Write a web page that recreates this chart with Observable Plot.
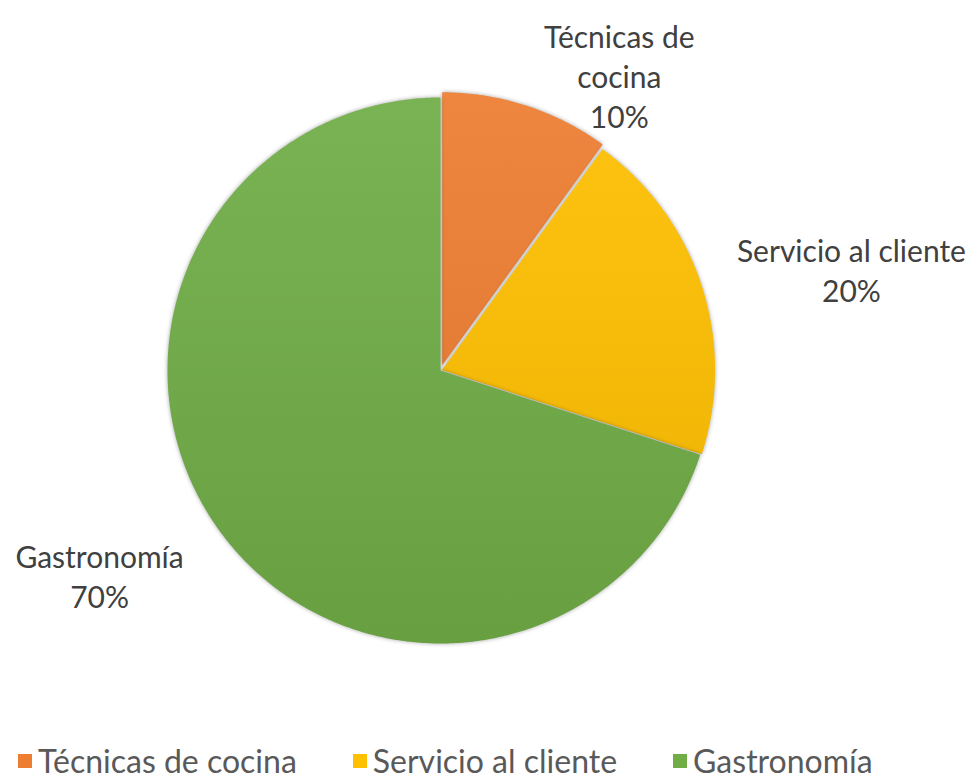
<!DOCTYPE html>
<html>
<head>
<meta charset="utf-8">
<script src="https://cdn.jsdelivr.net/npm/d3@7"></script>
<script src="https://cdn.jsdelivr.net/npm/@observablehq/plot@0.6"></script>
<style>
  html, body { margin: 0; padding: 0; background: #fff; overflow: hidden; }
  #chart { width: 975px; height: 738px; }
  #chart svg { display: block; }
  #legend { display: flex; align-items: center; height: 46px; padding-left: 18px; line-height: 1.15;
    font-family: Lato, "Open Sans", sans-serif; font-size: 32px; color: #595959; }
  #legend .item { display: flex; align-items: center; margin-right: 56px; }
  #legend .sw { width: 14px; height: 14px; margin-right: 6px; }
</style>
</head>
<body>
<div id="chart"></div>
<div id="legend"></div>
<script>
// ---- data ----
const categories = ["Técnicas de cocina", "Servicio al cliente", "Gastronomía"];
const labelLines = ["Técnicas de\ncocina", "Servicio al cliente", "Gastronomía"];
const values = [10, 20, 70];
const colors = ["#ED7D31", "#FFC000", "#70AD47"];

// ---- layout (not data) ----
const R = 273, CX = 440, CY = 370;
const explode = [0.02, 0.006, 0];
const labelPolar = [[31.2, 1.264], [76.2, 1.55], [239, 1.457]]; // degrees, radius
const total = d3.sum(values);

const pie = d3.pie().sort(null).value(d => d)(values);
const wedgePts = [];
pie.forEach((p, i) => {
  const mid = (p.startAngle + p.endAngle) / 2;
  const ox = explode[i] * Math.sin(mid), oy = explode[i] * Math.cos(mid);
  wedgePts.push({k: i, x: ox, y: oy});
  const n = Math.max(8, Math.ceil((p.endAngle - p.startAngle) / 0.01));
  for (let j = 0; j <= n; j++) {
    const a = p.startAngle + (p.endAngle - p.startAngle) * j / n;
    wedgePts.push({k: i, x: ox + Math.sin(a), y: oy + Math.cos(a)});
  }
});

const labels = categories.map((c, i) => {
  const a = labelPolar[i][0] * Math.PI / 180, r = labelPolar[i][1];
  return {
    text: labelLines[i] + "\n" + Math.round(values[i] / total * 100) + "%",
    x: r * Math.sin(a), y: r * Math.cos(a)
  };
});

const plot = Plot.plot({
  width: 975, height: 738,
  margin: 0,
  x: {domain: [-1, 1], range: [CX - R, CX + R], axis: null},
  y: {domain: [-1, 1], range: [CY + R, CY - R], axis: null},
  color: {type: "identity"},
  marks: [
    Plot.line(wedgePts, {x: "x", y: "y", z: "k", fill: d => `url(#grad${d.k})`,
      stroke: "none", curve: "linear-closed"}),
    Plot.text(labels, {x: "x", y: "y", text: "text", fill: "#404040",
      fontSize: 30, lineHeight: 1.33, lineAnchor: "middle", textAnchor: "middle",
      fontFamily: "Lato, 'Open Sans', sans-serif"})
  ]
});

// gradients
const svg = d3.select(plot);
const defs = svg.insert("defs", ":first-child");
colors.forEach((c, i) => {
  const g = defs.append("linearGradient").attr("id", "grad" + i)
    .attr("gradientUnits", "userSpaceOnUse")
    .attr("x1", 0).attr("y1", CY - R).attr("x2", 0).attr("y2", CY + R);
  g.append("stop").attr("offset", "0%").attr("stop-color", d3.interpolateRgb(c, "#fff")(0.07));
  g.append("stop").attr("offset", "100%").attr("stop-color", d3.interpolateRgb(c, "#000")(0.08));
});
svg.selectAll('g[aria-label="line"] path').style("filter", "drop-shadow(0px 0px 2px rgba(0,0,0,0.35))");
document.getElementById("chart").appendChild(plot);

const leg = d3.select("#legend");
categories.forEach((c, i) => {
  const it = leg.append("div").attr("class", "item");
  it.append("div").attr("class", "sw").style("background", colors[i]);
  it.append("span").text(c);
});
</script>
</body>
</html>
